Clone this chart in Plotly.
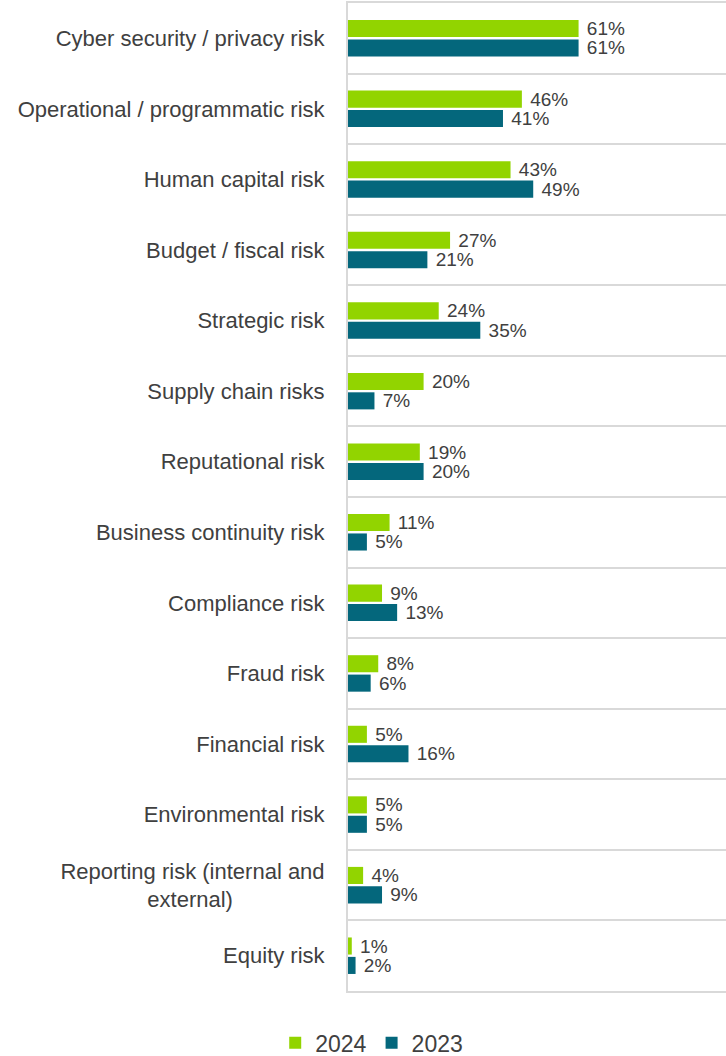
import plotly.graph_objects as go

categories = [
    "Cyber security / privacy risk",
    "Operational / programmatic risk",
    "Human capital risk",
    "Budget / fiscal risk",
    "Strategic risk",
    "Supply chain risks",
    "Reputational risk",
    "Business continuity risk",
    "Compliance risk",
    "Fraud risk",
    "Financial risk",
    "Environmental risk",
    "Reporting risk (internal and<br>external)" + "\u00a0" * 15,
    "Equity risk",
]
values_2024 = [61, 46, 43, 27, 24, 20, 19, 11, 9, 8, 5, 5, 4, 1]
values_2023 = [61, 41, 49, 21, 35, 7, 20, 5, 13, 6, 16, 5, 9, 2]

GREEN = "#92d400"
TEAL = "#04677c"
TEXT = "#404040"
GRID = "#d9d9d9"
FONT = "Liberation Sans, Arial, sans-serif"

fig = go.Figure()
for name, vals, color in [("2024", values_2024, GREEN), ("2023", values_2023, TEAL)]:
    fig.add_trace(go.Bar(
        y=categories,
        x=vals,
        name=name,
        orientation="h",
        marker=dict(color=color, line=dict(width=0)),
        text=[f" {v}%" for v in vals],
        textposition="outside",
        constraintext="none",
        cliponaxis=False,
        textfont=dict(size=19, color=TEXT, family=FONT),
    ))

fig.update_layout(
    width=726,
    height=1056,
    margin=dict(l=348, r=0, t=3, b=65, autoexpand=False),
    paper_bgcolor="white",
    plot_bgcolor="white",
    barmode="group",
    bargap=0.45,
    bargroupgap=0.12,
    font=dict(family=FONT, color=TEXT, size=22),
    showlegend=True,
    legend=dict(
        orientation="h",
        xref="container",
        yref="container",
        x=0.512,
        xanchor="center",
        y=0.0125,
        yanchor="middle",
        font=dict(size=23, color=TEXT),
        itemwidth=30,
        traceorder="normal",
    ),
    xaxis=dict(
        range=[0, 100],
        showgrid=False,
        zeroline=False,
        showticklabels=False,
        showline=True,
        mirror=True,
        linecolor=GRID,
        linewidth=2,
        fixedrange=True,
    ),
    yaxis=dict(
        autorange="reversed",
        tickson="boundaries",
        showgrid=True,
        gridcolor=GRID,
        gridwidth=2,
        showline=True,
        linecolor=GRID,
        linewidth=2,
        ticks="",
        ticklabelstandoff=17,
        tickfont=dict(size=22, color=TEXT),
    ),
)

fig.write_html("out.html")
